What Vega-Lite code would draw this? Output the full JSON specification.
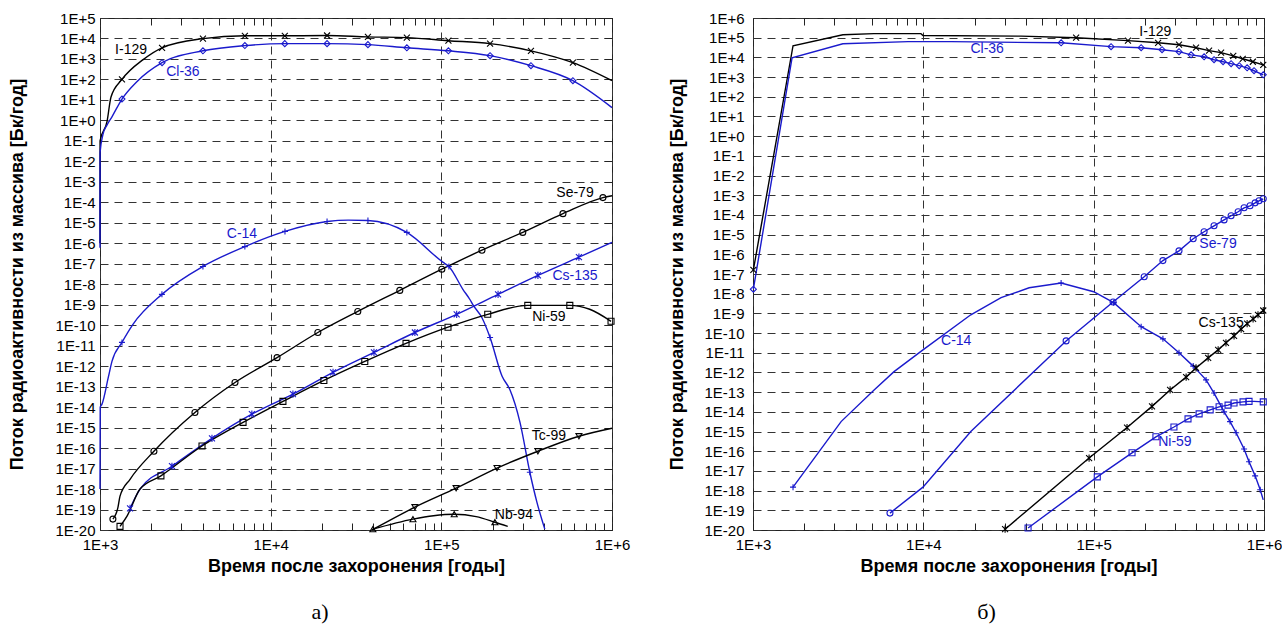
{
  "$schema": "https://vega.github.io/schema/vega-lite/v6.json",
  "background": "white",
  "padding": {"left": 8, "top": 10, "right": 2, "bottom": 2},
  "config": {
    "view": {"stroke": "#222", "strokeWidth": 1},
    "axis": {"labelFont": "Liberation Sans", "titleFont": "Liberation Sans", "labelColor": "#000", "titleColor": "#000", "domain": false, "labelFlush": false, "labelOverlap": false, "labelBound": false}
  },
  "spacing": 37,
  "resolve": {"scale": {"x": "independent", "y": "independent", "color": "independent", "shape": "independent"}},
  "datasets": {
    "a_lines": [
      {"nuclide":"I-129","t":1000,"flux":1e-6},{"nuclide":"I-129","t":1001,"flux":0.1},{"nuclide":"I-129","t":1100,"flux":0.9},{"nuclide":"I-129","t":1160,"flux":14},{"nuclide":"I-129","t":1345,"flux":100},{"nuclide":"I-129","t":1790,"flux":930},{"nuclide":"I-129","t":2310,"flux":3500},{"nuclide":"I-129","t":4010,"flux":9800},{"nuclide":"I-129","t":7060,"flux":13500},{"nuclide":"I-129","t":12100,"flux":13500},{"nuclide":"I-129","t":21400,"flux":14000},{"nuclide":"I-129","t":37150,"flux":12000},{"nuclide":"I-129","t":62800,"flux":11000},{"nuclide":"I-129","t":110000,"flux":7800},{"nuclide":"I-129","t":193000,"flux":5600},{"nuclide":"I-129","t":335000,"flux":2500},{"nuclide":"I-129","t":590000,"flux":660},{"nuclide":"I-129","t":1000000,"flux":87},
      {"nuclide":"Cl-36","t":1000,"flux":6e-7},{"nuclide":"Cl-36","t":1001,"flux":0.027},{"nuclide":"Cl-36","t":1040,"flux":0.2},{"nuclide":"Cl-36","t":1100,"flux":0.6},{"nuclide":"Cl-36","t":1175,"flux":1.5},{"nuclide":"Cl-36","t":1345,"flux":11},{"nuclide":"Cl-36","t":1650,"flux":80},{"nuclide":"Cl-36","t":2310,"flux":660},{"nuclide":"Cl-36","t":4010,"flux":2500},{"nuclide":"Cl-36","t":7060,"flux":4500},{"nuclide":"Cl-36","t":12100,"flux":5600},{"nuclide":"Cl-36","t":21400,"flux":5600},{"nuclide":"Cl-36","t":37150,"flux":5000},{"nuclide":"Cl-36","t":62800,"flux":3500},{"nuclide":"Cl-36","t":110000,"flux":2500},{"nuclide":"Cl-36","t":193000,"flux":1450},{"nuclide":"Cl-36","t":335000,"flux":470},{"nuclide":"Cl-36","t":590000,"flux":87},{"nuclide":"Cl-36","t":1000000,"flux":4.2},
      {"nuclide":"C-14","t":1000,"flux":1e-18},{"nuclide":"C-14","t":1003,"flux":1e-14},{"nuclide":"C-14","t":1027,"flux":1.4e-14},{"nuclide":"C-14","t":1120,"flux":3e-13},{"nuclide":"C-14","t":1175,"flux":1.7e-12},{"nuclide":"C-14","t":1345,"flux":1.45e-11},{"nuclide":"C-14","t":1560,"flux":1.1e-10},{"nuclide":"C-14","t":2306,"flux":3.2e-9},{"nuclide":"C-14","t":4010,"flux":7.4e-8},{"nuclide":"C-14","t":7060,"flux":6.9e-7},{"nuclide":"C-14","t":12130,"flux":3.8e-6},{"nuclide":"C-14","t":21400,"flux":1.15e-5},{"nuclide":"C-14","t":28500,"flux":1.35e-5},{"nuclide":"C-14","t":37150,"flux":1.3e-5},{"nuclide":"C-14","t":62800,"flux":3.4e-6},{"nuclide":"C-14","t":102000,"flux":1.2e-7},{"nuclide":"C-14","t":110700,"flux":7.4e-8},{"nuclide":"C-14","t":134000,"flux":5.5e-9},{"nuclide":"C-14","t":147000,"flux":1.8e-9},{"nuclide":"C-14","t":153000,"flux":1e-9},{"nuclide":"C-14","t":173000,"flux":2.3e-10},{"nuclide":"C-14","t":193000,"flux":2.5e-11},{"nuclide":"C-14","t":227000,"flux":3.2e-13},{"nuclide":"C-14","t":252000,"flux":7.2e-14},{"nuclide":"C-14","t":289000,"flux":1.8e-15},{"nuclide":"C-14","t":330000,"flux":6.6e-18},{"nuclide":"C-14","t":363000,"flux":2.3e-19},{"nuclide":"C-14","t":404000,"flux":1.1e-20},
      {"nuclide":"Se-79","t":1190,"flux":3.4e-20},{"nuclide":"Se-79","t":1275,"flux":1.3e-19},{"nuclide":"Se-79","t":1310,"flux":4.5e-19},{"nuclide":"Se-79","t":1500,"flux":3e-18},{"nuclide":"Se-79","t":2070,"flux":7e-17},{"nuclide":"Se-79","t":3600,"flux":5.5e-15},{"nuclide":"Se-79","t":6180,"flux":1.6e-13},{"nuclide":"Se-79","t":10900,"flux":2.6e-12},{"nuclide":"Se-79","t":18900,"flux":4.4e-11},{"nuclide":"Se-79","t":32400,"flux":4.7e-10},{"nuclide":"Se-79","t":57100,"flux":5e-9},{"nuclide":"Se-79","t":100700,"flux":5.4e-8},{"nuclide":"Se-79","t":173000,"flux":4.6e-7},{"nuclide":"Se-79","t":300000,"flux":3.4e-6},{"nuclide":"Se-79","t":516000,"flux":2.8e-5},{"nuclide":"Se-79","t":885000,"flux":1.7e-4},{"nuclide":"Se-79","t":1000000,"flux":2.1e-4},
      {"nuclide":"Cs-135","t":1500,"flux":1.15e-19},{"nuclide":"Cs-135","t":1716,"flux":1e-18},{"nuclide":"Cs-135","t":2640,"flux":1.3e-17},{"nuclide":"Cs-135","t":4530,"flux":3e-16},{"nuclide":"Cs-135","t":7760,"flux":4.5e-15},{"nuclide":"Cs-135","t":13500,"flux":4.3e-14},{"nuclide":"Cs-135","t":23200,"flux":5e-13},{"nuclide":"Cs-135","t":40300,"flux":4.7e-12},{"nuclide":"Cs-135","t":70000,"flux":4.4e-11},{"nuclide":"Cs-135","t":123000,"flux":3.4e-10},{"nuclide":"Cs-135","t":215000,"flux":3.2e-9},{"nuclide":"Cs-135","t":368000,"flux":2.7e-8},{"nuclide":"Cs-135","t":640000,"flux":2.1e-7},{"nuclide":"Cs-135","t":1000000,"flux":1.1e-6},
      {"nuclide":"Ni-59","t":1310,"flux":1.5e-20},{"nuclide":"Ni-59","t":1440,"flux":4.8e-20},{"nuclide":"Ni-59","t":1716,"flux":1e-18},{"nuclide":"Ni-59","t":2275,"flux":4.4e-18},{"nuclide":"Ni-59","t":3960,"flux":1.26e-16},{"nuclide":"Ni-59","t":6890,"flux":1.8e-15},{"nuclide":"Ni-59","t":11800,"flux":1.9e-14},{"nuclide":"Ni-59","t":20500,"flux":2e-13},{"nuclide":"Ni-59","t":35600,"flux":1.7e-12},{"nuclide":"Ni-59","t":62100,"flux":1.3e-11},{"nuclide":"Ni-59","t":109400,"flux":8e-11},{"nuclide":"Ni-59","t":187000,"flux":3.4e-10},{"nuclide":"Ni-59","t":321000,"flux":9.3e-10},{"nuclide":"Ni-59","t":566000,"flux":9.3e-10},{"nuclide":"Ni-59","t":740000,"flux":6e-10},{"nuclide":"Ni-59","t":987000,"flux":1.55e-10},
      {"nuclide":"Tc-99","t":39200,"flux":1e-20},{"nuclide":"Tc-99","t":48000,"flux":2.5e-20},{"nuclide":"Tc-99","t":70000,"flux":1.3e-19},{"nuclide":"Tc-99","t":122000,"flux":1.1e-18},{"nuclide":"Tc-99","t":212000,"flux":1.05e-17},{"nuclide":"Tc-99","t":368000,"flux":7e-17},{"nuclide":"Tc-99","t":640000,"flux":3.8e-16},{"nuclide":"Tc-99","t":1000000,"flux":9.3e-16},
      {"nuclide":"Nb-94","t":39700,"flux":1.1e-20},{"nuclide":"Nb-94","t":68200,"flux":3.4e-20},{"nuclide":"Nb-94","t":90000,"flux":5e-20},{"nuclide":"Nb-94","t":119000,"flux":5.9e-20},{"nuclide":"Nb-94","t":160000,"flux":4.5e-20},{"nuclide":"Nb-94","t":206000,"flux":2.4e-20},{"nuclide":"Nb-94","t":245000,"flux":1.5e-20}
    ],
    "a_pts": [
      {"nuclide":"I-129","t":1345,"flux":100},{"nuclide":"I-129","t":2310,"flux":3500},{"nuclide":"I-129","t":4010,"flux":9800},{"nuclide":"I-129","t":7060,"flux":13500},{"nuclide":"I-129","t":12100,"flux":13500},{"nuclide":"I-129","t":21400,"flux":14000},{"nuclide":"I-129","t":37150,"flux":12000},{"nuclide":"I-129","t":62800,"flux":11000},{"nuclide":"I-129","t":110000,"flux":7800},{"nuclide":"I-129","t":193000,"flux":5600},{"nuclide":"I-129","t":335000,"flux":2500},{"nuclide":"I-129","t":590000,"flux":660},
      {"nuclide":"Cl-36","t":1345,"flux":11},{"nuclide":"Cl-36","t":2310,"flux":660},{"nuclide":"Cl-36","t":4010,"flux":2500},{"nuclide":"Cl-36","t":7060,"flux":4500},{"nuclide":"Cl-36","t":12100,"flux":5600},{"nuclide":"Cl-36","t":21400,"flux":5600},{"nuclide":"Cl-36","t":37150,"flux":5000},{"nuclide":"Cl-36","t":62800,"flux":3500},{"nuclide":"Cl-36","t":110000,"flux":2500},{"nuclide":"Cl-36","t":193000,"flux":1450},{"nuclide":"Cl-36","t":335000,"flux":470},{"nuclide":"Cl-36","t":590000,"flux":87},
      {"nuclide":"C-14","t":1345,"flux":1.45e-11},{"nuclide":"C-14","t":2306,"flux":3.2e-9},{"nuclide":"C-14","t":4010,"flux":7.4e-8},{"nuclide":"C-14","t":7060,"flux":6.9e-7},{"nuclide":"C-14","t":12130,"flux":3.8e-6},{"nuclide":"C-14","t":21400,"flux":1.15e-5},{"nuclide":"C-14","t":37150,"flux":1.3e-5},{"nuclide":"C-14","t":62800,"flux":3.4e-6},{"nuclide":"C-14","t":110700,"flux":7.4e-8},{"nuclide":"C-14","t":193000,"flux":2.5e-11},{"nuclide":"C-14","t":330000,"flux":6.6e-18},
      {"nuclide":"Se-79","t":1190,"flux":3.4e-20},{"nuclide":"Se-79","t":2070,"flux":7e-17},{"nuclide":"Se-79","t":3600,"flux":5.5e-15},{"nuclide":"Se-79","t":6180,"flux":1.6e-13},{"nuclide":"Se-79","t":10900,"flux":2.6e-12},{"nuclide":"Se-79","t":18900,"flux":4.4e-11},{"nuclide":"Se-79","t":32400,"flux":4.7e-10},{"nuclide":"Se-79","t":57100,"flux":5e-9},{"nuclide":"Se-79","t":100700,"flux":5.4e-8},{"nuclide":"Se-79","t":173000,"flux":4.6e-7},{"nuclide":"Se-79","t":300000,"flux":3.4e-6},{"nuclide":"Se-79","t":516000,"flux":2.8e-5},{"nuclide":"Se-79","t":885000,"flux":1.7e-4},
      {"nuclide":"Cs-135","t":1500,"flux":1.15e-19},{"nuclide":"Cs-135","t":2640,"flux":1.3e-17},{"nuclide":"Cs-135","t":4530,"flux":3e-16},{"nuclide":"Cs-135","t":7760,"flux":4.5e-15},{"nuclide":"Cs-135","t":13500,"flux":4.3e-14},{"nuclide":"Cs-135","t":23200,"flux":5e-13},{"nuclide":"Cs-135","t":40300,"flux":4.7e-12},{"nuclide":"Cs-135","t":70000,"flux":4.4e-11},{"nuclide":"Cs-135","t":123000,"flux":3.4e-10},{"nuclide":"Cs-135","t":215000,"flux":3.2e-9},{"nuclide":"Cs-135","t":368000,"flux":2.7e-8},{"nuclide":"Cs-135","t":640000,"flux":2.1e-7},
      {"nuclide":"Ni-59","t":1310,"flux":1.5e-20},{"nuclide":"Ni-59","t":2275,"flux":4.4e-18},{"nuclide":"Ni-59","t":3960,"flux":1.26e-16},{"nuclide":"Ni-59","t":6890,"flux":1.8e-15},{"nuclide":"Ni-59","t":11800,"flux":1.9e-14},{"nuclide":"Ni-59","t":20500,"flux":2e-13},{"nuclide":"Ni-59","t":35600,"flux":1.7e-12},{"nuclide":"Ni-59","t":62100,"flux":1.3e-11},{"nuclide":"Ni-59","t":109400,"flux":8e-11},{"nuclide":"Ni-59","t":187000,"flux":3.4e-10},{"nuclide":"Ni-59","t":321000,"flux":9.3e-10},{"nuclide":"Ni-59","t":566000,"flux":9.3e-10},{"nuclide":"Ni-59","t":987000,"flux":1.55e-10},
      {"nuclide":"Tc-99","t":70000,"flux":1.3e-19},{"nuclide":"Tc-99","t":122000,"flux":1.1e-18},{"nuclide":"Tc-99","t":212000,"flux":1.05e-17},{"nuclide":"Tc-99","t":368000,"flux":7e-17},{"nuclide":"Tc-99","t":640000,"flux":3.8e-16},
      {"nuclide":"Nb-94","t":39700,"flux":1.1e-20},{"nuclide":"Nb-94","t":68200,"flux":3.4e-20},{"nuclide":"Nb-94","t":119000,"flux":5.9e-20},{"nuclide":"Nb-94","t":206000,"flux":2.4e-20}
    ],
    "a_txt": [
      {"nuclide":"I-129","t":1520,"flux":2800},{"nuclide":"Cl-36","t":3060,"flux":240},{"nuclide":"C-14","t":6790,"flux":2.7e-6},{"nuclide":"Se-79","t":607000,"flux":3e-4},{"nuclide":"Cs-135","t":607000,"flux":2.4e-8},{"nuclide":"Ni-59","t":427000,"flux":2.4e-10},{"nuclide":"Tc-99","t":427000,"flux":3.8e-16},{"nuclide":"Nb-94","t":266000,"flux":5.2e-20}
    ],
    "b_lines": [
      {"nuclide":"I-129","t":1005,"flux":1.6e-7},{"nuclide":"I-129","t":1718,"flux":39000},{"nuclide":"I-129","t":3370,"flux":140000},{"nuclide":"I-129","t":5130,"flux":160000},{"nuclide":"I-129","t":9680,"flux":160000},{"nuclide":"I-129","t":9950,"flux":130000},{"nuclide":"I-129","t":37500,"flux":120000},{"nuclide":"I-129","t":78900,"flux":100000},{"nuclide":"I-129","t":159000,"flux":71000},{"nuclide":"I-129","t":239000,"flux":55000},{"nuclide":"I-129","t":317000,"flux":44000},{"nuclide":"I-129","t":399000,"flux":31000},{"nuclide":"I-129","t":476000,"flux":22000},{"nuclide":"I-129","t":560000,"flux":17400},{"nuclide":"I-129","t":660000,"flux":12000},{"nuclide":"I-129","t":750000,"flux":8500},{"nuclide":"I-129","t":860000,"flux":6000},{"nuclide":"I-129","t":990000,"flux":4200},
      {"nuclide":"Cl-36","t":1005,"flux":1.7e-8},{"nuclide":"Cl-36","t":1695,"flux":9500},{"nuclide":"Cl-36","t":3370,"flux":49000},{"nuclide":"Cl-36","t":8130,"flux":63000},{"nuclide":"Cl-36","t":14600,"flux":63000},{"nuclide":"Cl-36","t":64400,"flux":55000},{"nuclide":"Cl-36","t":126500,"flux":35000},{"nuclide":"Cl-36","t":190000,"flux":31000},{"nuclide":"Cl-36","t":252000,"flux":24500},{"nuclide":"Cl-36","t":317000,"flux":19500},{"nuclide":"Cl-36","t":373000,"flux":13500},{"nuclide":"Cl-36","t":445000,"flux":10700},{"nuclide":"Cl-36","t":509000,"flux":7600},{"nuclide":"Cl-36","t":575000,"flux":6000},{"nuclide":"Cl-36","t":641000,"flux":4800},{"nuclide":"Cl-36","t":715000,"flux":3800},{"nuclide":"Cl-36","t":796000,"flux":2950},{"nuclide":"Cl-36","t":874000,"flux":2100},{"nuclide":"Cl-36","t":990000,"flux":1300},
      {"nuclide":"C-14","t":1718,"flux":1.5e-18},{"nuclide":"C-14","t":3290,"flux":3.2e-15},{"nuclide":"C-14","t":5140,"flux":1.3e-13},{"nuclide":"C-14","t":6730,"flux":1.1e-12},{"nuclide":"C-14","t":9950,"flux":1.4e-11},{"nuclide":"C-14","t":19000,"flux":8.5e-10},{"nuclide":"C-14","t":28600,"flux":6.3e-9},{"nuclide":"C-14","t":41800,"flux":2e-8},{"nuclide":"C-14","t":64400,"flux":3.5e-8},{"nuclide":"C-14","t":100000,"flux":1.26e-8},{"nuclide":"C-14","t":131000,"flux":3.5e-9},{"nuclide":"C-14","t":190000,"flux":2.1e-10},{"nuclide":"C-14","t":255000,"flux":5.1e-11},{"nuclide":"C-14","t":317000,"flux":1e-11},{"nuclide":"C-14","t":384000,"flux":2.1e-12},{"nuclide":"C-14","t":457000,"flux":4.2e-13},{"nuclide":"C-14","t":509000,"flux":9e-14},{"nuclide":"C-14","t":583000,"flux":1e-14},{"nuclide":"C-14","t":632000,"flux":3.2e-15},{"nuclide":"C-14","t":686000,"flux":8.7e-16},{"nuclide":"C-14","t":764000,"flux":1.3e-16},{"nuclide":"C-14","t":817000,"flux":2.9e-17},{"nuclide":"C-14","t":887000,"flux":5.6e-18},{"nuclide":"C-14","t":950000,"flux":1.1e-18},{"nuclide":"C-14","t":990000,"flux":3.4e-19},
      {"nuclide":"Se-79","t":6370,"flux":7.2e-20},{"nuclide":"Se-79","t":9950,"flux":1.5e-18},{"nuclide":"Se-79","t":19000,"flux":1e-15},{"nuclide":"Se-79","t":68900,"flux":4e-11},{"nuclide":"Se-79","t":130000,"flux":3.8e-9},{"nuclide":"Se-79","t":198000,"flux":7.2e-8},{"nuclide":"Se-79","t":255000,"flux":4.8e-7},{"nuclide":"Se-79","t":317000,"flux":1.5e-6},{"nuclide":"Se-79","t":384000,"flux":6.2e-6},{"nuclide":"Se-79","t":445000,"flux":1.4e-5},{"nuclide":"Se-79","t":509000,"flux":2.8e-5},{"nuclide":"Se-79","t":583000,"flux":5.6e-5},{"nuclide":"Se-79","t":641000,"flux":9.1e-5},{"nuclide":"Se-79","t":705000,"flux":1.45e-4},{"nuclide":"Se-79","t":764000,"flux":2.3e-4},{"nuclide":"Se-79","t":828000,"flux":2.9e-4},{"nuclide":"Se-79","t":887000,"flux":4.1e-4},{"nuclide":"Se-79","t":935000,"flux":5.2e-4},{"nuclide":"Se-79","t":990000,"flux":6.6e-4},
      {"nuclide":"Cs-135","t":30200,"flux":1.1e-20},{"nuclide":"Cs-135","t":94000,"flux":4.5e-17},{"nuclide":"Cs-135","t":157000,"flux":1.6e-15},{"nuclide":"Cs-135","t":220000,"flux":1.9e-14},{"nuclide":"Cs-135","t":281000,"flux":1.3e-13},{"nuclide":"Cs-135","t":349000,"flux":5.8e-13},{"nuclide":"Cs-135","t":399000,"flux":1.7e-12},{"nuclide":"Cs-135","t":470000,"flux":5.5e-12},{"nuclide":"Cs-135","t":538000,"flux":1.4e-11},{"nuclide":"Cs-135","t":598000,"flux":3.2e-11},{"nuclide":"Cs-135","t":667000,"flux":7.2e-11},{"nuclide":"Cs-135","t":734000,"flux":1.6e-10},{"nuclide":"Cs-135","t":796000,"flux":3e-10},{"nuclide":"Cs-135","t":863000,"flux":5.2e-10},{"nuclide":"Cs-135","t":922000,"flux":8.5e-10},{"nuclide":"Cs-135","t":990000,"flux":1.4e-9},
      {"nuclide":"Ni-59","t":41200,"flux":1.26e-20},{"nuclide":"Ni-59","t":105000,"flux":5e-18},{"nuclide":"Ni-59","t":168000,"flux":8.3e-17},{"nuclide":"Ni-59","t":232000,"flux":5.4e-16},{"nuclide":"Ni-59","t":296000,"flux":1.7e-15},{"nuclide":"Ni-59","t":358000,"flux":4.4e-15},{"nuclide":"Ni-59","t":416000,"flux":7.9e-15},{"nuclide":"Ni-59","t":483000,"flux":1.26e-14},{"nuclide":"Ni-59","t":545000,"flux":1.8e-14},{"nuclide":"Ni-59","t":615000,"flux":2.2e-14},{"nuclide":"Ni-59","t":667000,"flux":2.8e-14},{"nuclide":"Ni-59","t":753000,"flux":3.2e-14},{"nuclide":"Ni-59","t":817000,"flux":3.4e-14},{"nuclide":"Ni-59","t":874000,"flux":3.4e-14},{"nuclide":"Ni-59","t":990000,"flux":3.2e-14}
    ],
    "b_pts": [
      {"nuclide":"I-129","t":1005,"flux":1.6e-7},{"nuclide":"I-129","t":78900,"flux":100000},{"nuclide":"I-129","t":159000,"flux":71000},{"nuclide":"I-129","t":239000,"flux":55000},{"nuclide":"I-129","t":317000,"flux":44000},{"nuclide":"I-129","t":399000,"flux":31000},{"nuclide":"I-129","t":476000,"flux":22000},{"nuclide":"I-129","t":560000,"flux":17400},{"nuclide":"I-129","t":660000,"flux":12000},{"nuclide":"I-129","t":750000,"flux":8500},{"nuclide":"I-129","t":860000,"flux":6000},{"nuclide":"I-129","t":990000,"flux":4200},
      {"nuclide":"Cl-36","t":1005,"flux":1.7e-8},{"nuclide":"Cl-36","t":64400,"flux":55000},{"nuclide":"Cl-36","t":126500,"flux":35000},{"nuclide":"Cl-36","t":190000,"flux":31000},{"nuclide":"Cl-36","t":252000,"flux":24500},{"nuclide":"Cl-36","t":317000,"flux":19500},{"nuclide":"Cl-36","t":373000,"flux":13500},{"nuclide":"Cl-36","t":445000,"flux":10700},{"nuclide":"Cl-36","t":509000,"flux":7600},{"nuclide":"Cl-36","t":575000,"flux":6000},{"nuclide":"Cl-36","t":641000,"flux":4800},{"nuclide":"Cl-36","t":715000,"flux":3800},{"nuclide":"Cl-36","t":796000,"flux":2950},{"nuclide":"Cl-36","t":874000,"flux":2100},{"nuclide":"Cl-36","t":990000,"flux":1300},
      {"nuclide":"C-14","t":1718,"flux":1.5e-18},{"nuclide":"C-14","t":64400,"flux":3.5e-8},{"nuclide":"C-14","t":131000,"flux":3.5e-9},{"nuclide":"C-14","t":190000,"flux":2.1e-10},{"nuclide":"C-14","t":255000,"flux":5.1e-11},{"nuclide":"C-14","t":317000,"flux":1e-11},{"nuclide":"C-14","t":384000,"flux":2.1e-12},{"nuclide":"C-14","t":457000,"flux":4.2e-13},{"nuclide":"C-14","t":509000,"flux":9e-14},{"nuclide":"C-14","t":583000,"flux":1e-14},{"nuclide":"C-14","t":632000,"flux":3.2e-15},{"nuclide":"C-14","t":686000,"flux":8.7e-16},{"nuclide":"C-14","t":764000,"flux":1.3e-16},{"nuclide":"C-14","t":817000,"flux":2.9e-17},{"nuclide":"C-14","t":887000,"flux":5.6e-18},{"nuclide":"C-14","t":950000,"flux":1.1e-18},
      {"nuclide":"Se-79","t":6370,"flux":7.2e-20},{"nuclide":"Se-79","t":68900,"flux":4e-11},{"nuclide":"Se-79","t":130000,"flux":3.8e-9},{"nuclide":"Se-79","t":198000,"flux":7.2e-8},{"nuclide":"Se-79","t":255000,"flux":4.8e-7},{"nuclide":"Se-79","t":317000,"flux":1.5e-6},{"nuclide":"Se-79","t":384000,"flux":6.2e-6},{"nuclide":"Se-79","t":445000,"flux":1.4e-5},{"nuclide":"Se-79","t":509000,"flux":2.8e-5},{"nuclide":"Se-79","t":583000,"flux":5.6e-5},{"nuclide":"Se-79","t":641000,"flux":9.1e-5},{"nuclide":"Se-79","t":705000,"flux":1.45e-4},{"nuclide":"Se-79","t":764000,"flux":2.3e-4},{"nuclide":"Se-79","t":828000,"flux":2.9e-4},{"nuclide":"Se-79","t":887000,"flux":4.1e-4},{"nuclide":"Se-79","t":935000,"flux":5.2e-4},{"nuclide":"Se-79","t":990000,"flux":6.6e-4},
      {"nuclide":"Cs-135","t":30200,"flux":1.1e-20},{"nuclide":"Cs-135","t":94000,"flux":4.5e-17},{"nuclide":"Cs-135","t":157000,"flux":1.6e-15},{"nuclide":"Cs-135","t":220000,"flux":1.9e-14},{"nuclide":"Cs-135","t":281000,"flux":1.3e-13},{"nuclide":"Cs-135","t":349000,"flux":5.8e-13},{"nuclide":"Cs-135","t":399000,"flux":1.7e-12},{"nuclide":"Cs-135","t":470000,"flux":5.5e-12},{"nuclide":"Cs-135","t":538000,"flux":1.4e-11},{"nuclide":"Cs-135","t":598000,"flux":3.2e-11},{"nuclide":"Cs-135","t":667000,"flux":7.2e-11},{"nuclide":"Cs-135","t":734000,"flux":1.6e-10},{"nuclide":"Cs-135","t":796000,"flux":3e-10},{"nuclide":"Cs-135","t":863000,"flux":5.2e-10},{"nuclide":"Cs-135","t":922000,"flux":8.5e-10},{"nuclide":"Cs-135","t":990000,"flux":1.4e-9},
      {"nuclide":"Ni-59","t":41200,"flux":1.26e-20},{"nuclide":"Ni-59","t":105000,"flux":5e-18},{"nuclide":"Ni-59","t":168000,"flux":8.3e-17},{"nuclide":"Ni-59","t":232000,"flux":5.4e-16},{"nuclide":"Ni-59","t":296000,"flux":1.7e-15},{"nuclide":"Ni-59","t":358000,"flux":4.4e-15},{"nuclide":"Ni-59","t":416000,"flux":7.9e-15},{"nuclide":"Ni-59","t":483000,"flux":1.26e-14},{"nuclide":"Ni-59","t":545000,"flux":1.8e-14},{"nuclide":"Ni-59","t":615000,"flux":2.2e-14},{"nuclide":"Ni-59","t":667000,"flux":2.8e-14},{"nuclide":"Ni-59","t":753000,"flux":3.2e-14},{"nuclide":"Ni-59","t":817000,"flux":3.4e-14},{"nuclide":"Ni-59","t":990000,"flux":3.2e-14}
    ],
    "b_txt": [
      {"nuclide":"I-129","t":230000,"flux":200000},{"nuclide":"Cl-36","t":23700,"flux":27500},{"nuclide":"C-14","t":15600,"flux":4e-11},{"nuclide":"Se-79","t":537000,"flux":3.4e-6},{"nuclide":"Cs-135","t":560000,"flux":3.3e-10},{"nuclide":"Ni-59","t":300000,"flux":3e-16}
    ]
  },
  "hconcat": [
    {
      "width": 512, "height": 512,
      "title": {"text": "а)", "orient": "bottom", "anchor": "middle", "font": "Liberation Serif", "fontSize": 22, "fontWeight": "normal", "color": "#000", "offset": 27, "dx": -36},
      "layer": [
        {
          "data": {"name": "a_lines"},
          "mark": {"type": "line", "strokeWidth": 1.4, "interpolate": "monotone"},
          "encoding": {
            "x": {"field": "t", "type": "quantitative", "scale": {"type": "log", "domain": [1000, 1000000], "nice": false},
              "axis": {"orient": "bottom", "values": [1000,2000,3000,4000,5000,6000,7000,8000,9000,10000,20000,30000,40000,50000,60000,70000,80000,90000,100000,200000,300000,400000,500000,600000,700000,800000,900000,1000000],
                "labelExpr": "abs(log(datum.value)/LN10 - round(log(datum.value)/LN10)) < 0.01 ? '1E+' + round(log(datum.value)/LN10) : ''",
                "labelFontSize": 15, "labelPadding": 14, "tickSize": -7, "tickColor": "#222",
                "grid": true, "gridDash": [8, 6], "gridColor": "#333",
                "gridOpacity": {"condition": {"test": "abs(log(datum.value)/LN10 - round(log(datum.value)/LN10)) < 0.01", "value": 1}, "value": 0},
                "title": "Время после захоронения [годы]", "titleFontSize": 18, "titleFontWeight": "bold", "titlePadding": 5}},
            "y": {"field": "flux", "type": "quantitative", "scale": {"type": "log", "domain": [1e-20, 100000], "nice": false},
              "axis": {"orient": "left", "values": [1e-20,1e-19,1e-18,1e-17,1e-16,1e-15,1e-14,1e-13,1e-12,1e-11,1e-10,1e-9,1e-8,1e-7,1e-6,1e-5,1e-4,1e-3,1e-2,1e-1,1,10,100,1000,10000,100000],
                "labelExpr": "'1E' + (datum.value >= 1 ? '+' : '-') + abs(round(log(datum.value)/LN10))",
                "labelFontSize": 15, "labelPadding": 5, "ticks": false,
                "grid": true, "gridDash": [8, 6], "gridColor": "#333",
                "title": "Поток радиоактивности из массива [Бк/год]", "titleFontSize": 18, "titleFontWeight": "bold", "titlePadding": 28}},
            "color": {"field": "nuclide", "type": "nominal", "legend": null,
              "scale": {"domain": ["I-129","Cl-36","C-14","Se-79","Cs-135","Ni-59","Tc-99","Nb-94"], "range": ["#000000","#1a1acc","#1a1acc","#000000","#1a1acc","#000000","#000000","#000000"]}}
          }
        },
        {
          "data": {"name": "a_pts"},
          "mark": {"type": "point", "filled": false, "size": 36, "strokeWidth": 1.1, "opacity": 1},
          "encoding": {
            "x": {"field": "t", "type": "quantitative", "scale": {"type": "log", "domain": [1000, 1000000], "nice": false},
              "axis": {"orient": "top", "values": [1000,2000,3000,4000,5000,6000,7000,8000,9000,10000,20000,30000,40000,50000,60000,70000,80000,90000,100000,200000,300000,400000,500000,600000,700000,800000,900000,1000000], "labels": false, "tickSize": -7, "tickColor": "#222", "grid": false, "title": null}},
            "y": {"field": "flux", "type": "quantitative", "scale": {"type": "log", "domain": [1e-20, 100000], "nice": false},
              "axis": {"orient": "right", "values": [1e-20,1e-19,1e-18,1e-17,1e-16,1e-15,1e-14,1e-13,1e-12,1e-11,1e-10,1e-9,1e-8,1e-7,1e-6,1e-5,1e-4,1e-3,1e-2,1e-1,1,10,100,1000,10000,100000], "labels": false, "tickSize": -8, "tickColor": "#222", "grid": false, "title": null}},
            "color": {"field": "nuclide", "type": "nominal", "legend": null},
            "shape": {"field": "nuclide", "type": "nominal", "legend": null,
              "scale": {"domain": ["I-129","Cl-36","C-14","Se-79","Cs-135","Ni-59","Tc-99","Nb-94"], "range": ["M-1,-1L1,1M-1,1L1,-1","diamond","M-1,0L1,0M0,-1L0,1","circle","M-1,-1L1,1M-1,1L1,-1M0,-1.2L0,1.2","square","triangle-down","triangle-up"]}}
          }
        },
        {
          "data": {"name": "a_txt"},
          "mark": {"type": "text", "font": "Liberation Sans", "fontSize": 14},
          "encoding": {
            "x": {"field": "t", "type": "quantitative", "axis": null},
            "y": {"field": "flux", "type": "quantitative", "axis": null},
            "text": {"field": "nuclide"},
            "color": {"field": "nuclide", "type": "nominal", "legend": null}
          }
        }
      ]
    },
    {
      "width": 511, "height": 512,
      "title": {"text": "б)", "orient": "bottom", "anchor": "middle", "font": "Liberation Serif", "fontSize": 22, "fontWeight": "normal", "color": "#000", "offset": 27, "dx": -22},
      "layer": [
        {
          "data": {"name": "b_lines"},
          "mark": {"type": "line", "strokeWidth": 1.4},
          "encoding": {
            "x": {"field": "t", "type": "quantitative", "scale": {"type": "log", "domain": [1000, 1000000], "nice": false},
              "axis": {"orient": "bottom", "values": [1000,2000,3000,4000,5000,6000,7000,8000,9000,10000,20000,30000,40000,50000,60000,70000,80000,90000,100000,200000,300000,400000,500000,600000,700000,800000,900000,1000000],
                "labelExpr": "abs(log(datum.value)/LN10 - round(log(datum.value)/LN10)) < 0.01 ? '1E+' + round(log(datum.value)/LN10) : ''",
                "labelFontSize": 15, "labelPadding": 14, "tickSize": -7, "tickColor": "#222",
                "grid": true, "gridDash": [8, 6], "gridColor": "#333",
                "gridOpacity": {"condition": {"test": "abs(log(datum.value)/LN10 - round(log(datum.value)/LN10)) < 0.01", "value": 1}, "value": 0},
                "title": "Время после захоронения [годы]", "titleFontSize": 18, "titleFontWeight": "bold", "titlePadding": 5}},
            "y": {"field": "flux", "type": "quantitative", "scale": {"type": "log", "domain": [1e-20, 1000000], "nice": false},
              "axis": {"orient": "left", "values": [1e-20,1e-19,1e-18,1e-17,1e-16,1e-15,1e-14,1e-13,1e-12,1e-11,1e-10,1e-9,1e-8,1e-7,1e-6,1e-5,1e-4,1e-3,1e-2,1e-1,1,10,100,1000,10000,100000,1000000],
                "labelExpr": "'1E' + (datum.value >= 1 ? '+' : '-') + abs(round(log(datum.value)/LN10))",
                "labelFontSize": 15, "labelPadding": 9, "ticks": false,
                "grid": true, "gridDash": [8, 6], "gridColor": "#333",
                "title": "Поток радиоактивности из массива [Бк/год]", "titleFontSize": 18, "titleFontWeight": "bold", "titlePadding": 17}},
            "color": {"field": "nuclide", "type": "nominal", "legend": null,
              "scale": {"domain": ["I-129","Cl-36","C-14","Se-79","Cs-135","Ni-59"], "range": ["#000000","#1a1acc","#1a1acc","#1a1acc","#000000","#1a1acc"]}}
          }
        },
        {
          "data": {"name": "b_pts"},
          "mark": {"type": "point", "filled": false, "size": 36, "strokeWidth": 1.1, "opacity": 1},
          "encoding": {
            "x": {"field": "t", "type": "quantitative", "scale": {"type": "log", "domain": [1000, 1000000], "nice": false},
              "axis": {"orient": "top", "values": [1000,2000,3000,4000,5000,6000,7000,8000,9000,10000,20000,30000,40000,50000,60000,70000,80000,90000,100000,200000,300000,400000,500000,600000,700000,800000,900000,1000000], "labels": false, "tickSize": -7, "tickColor": "#222", "grid": false, "title": null}},
            "y": {"field": "flux", "type": "quantitative", "scale": {"type": "log", "domain": [1e-20, 1000000], "nice": false},
              "axis": {"orient": "right", "values": [1e-20,1e-19,1e-18,1e-17,1e-16,1e-15,1e-14,1e-13,1e-12,1e-11,1e-10,1e-9,1e-8,1e-7,1e-6,1e-5,1e-4,1e-3,1e-2,1e-1,1,10,100,1000,10000,100000,1000000], "labels": false, "tickSize": -8, "tickColor": "#222", "grid": false, "title": null}},
            "color": {"field": "nuclide", "type": "nominal", "legend": null},
            "shape": {"field": "nuclide", "type": "nominal", "legend": null,
              "scale": {"domain": ["I-129","Cl-36","C-14","Se-79","Cs-135","Ni-59"], "range": ["M-1,-1L1,1M-1,1L1,-1","diamond","M-1,0L1,0M0,-1L0,1","circle","M-1,-1L1,1M-1,1L1,-1M0,-1.2L0,1.2","square"]}}
          }
        },
        {
          "data": {"name": "b_txt"},
          "mark": {"type": "text", "font": "Liberation Sans", "fontSize": 14},
          "encoding": {
            "x": {"field": "t", "type": "quantitative", "axis": null},
            "y": {"field": "flux", "type": "quantitative", "axis": null},
            "text": {"field": "nuclide"},
            "color": {"field": "nuclide", "type": "nominal", "legend": null}
          }
        }
      ]
    }
  ]
}
